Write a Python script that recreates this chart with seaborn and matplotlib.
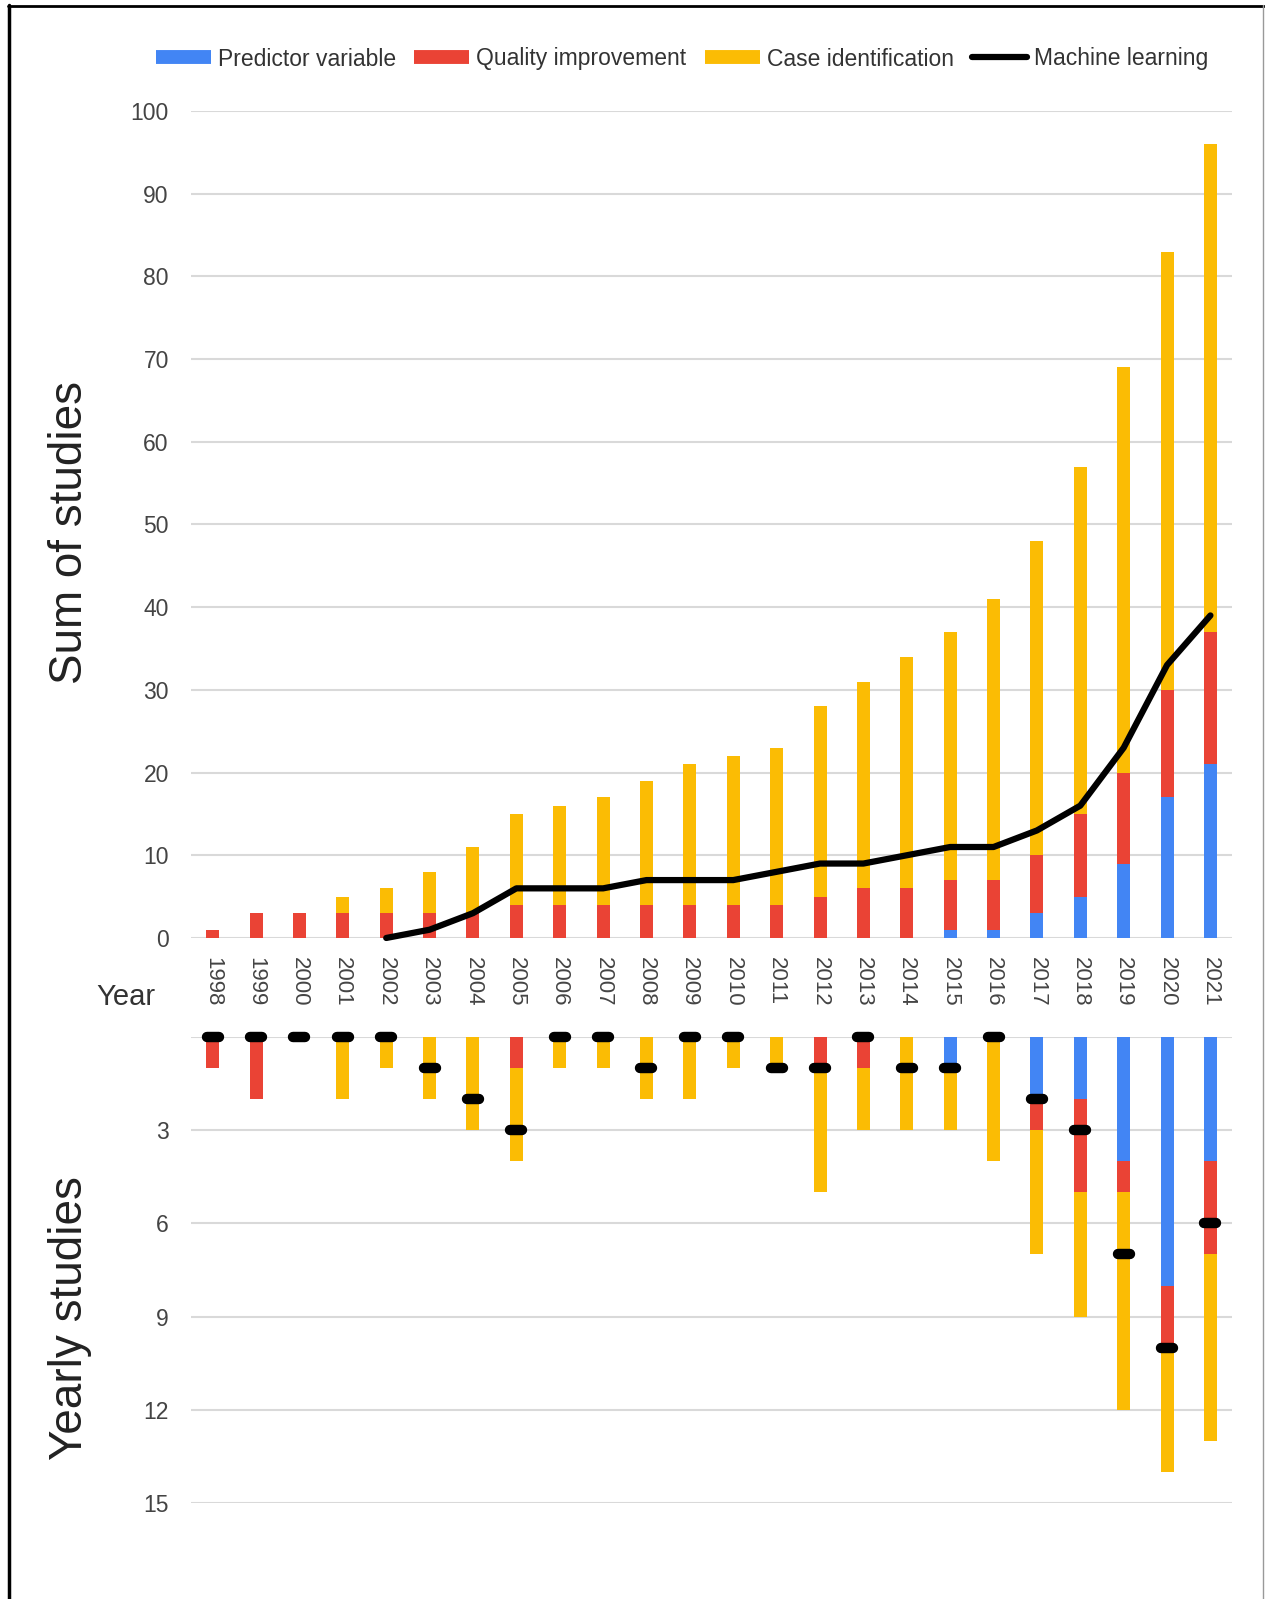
import numpy as np
import matplotlib.pyplot as plt
from matplotlib.lines import Line2D
from matplotlib.markers import MarkerStyle
import seaborn as sns

years = [str(y) for y in range(1998, 2022)]

# yearly counts
predictor = [0, 0, 0, 0, 0, 0, 0, 0, 0, 0, 0, 0, 0, 0, 0, 0, 0, 1, 0, 2, 2, 4, 8, 4]
quality = [1, 2, 0, 0, 0, 0, 0, 1, 0, 0, 0, 0, 0, 0, 1, 1, 0, 0, 0, 1, 3, 1, 2, 3]
case_id = [0, 0, 0, 2, 1, 2, 3, 3, 1, 1, 2, 2, 1, 1, 4, 2, 3, 2, 4, 4, 4, 7, 4, 6]
ml_yearly = [0, 0, 0, 0, 0, 1, 2, 3, 0, 0, 1, 0, 0, 1, 1, 0, 1, 1, 0, 2, 3, 7, 10, 6]

# running total of machine learning studies (line starts in 2002)
ml_total = [None, None, None, None, 0, 1, 3, 6, 6, 6, 7, 7, 7, 8, 9, 9, 10, 11, 11, 13, 16, 23, 33, 39]

labels = ["Predictor variable", "Quality improvement", "Case identification", "Machine learning"]
BLUE, RED, YELLOW = "#4285F4", "#EA4335", "#FBBC04"
GRID = "#d9d9d9"
TXT = "#444444"

sns.set_style("white")
plt.rcParams["font.family"] = ["Liberation Sans", "DejaVu Sans"]

pred = np.array(predictor)
qual = np.array(quality)
case = np.array(case_id)
pos = np.arange(len(years))

fig = plt.figure(figsize=(12.65, 15.99), dpi=100)
ax1 = fig.add_axes([0.151, 0.4134, 0.823, 0.5172])
ax2 = fig.add_axes([0.151, 0.0600, 0.823, 0.2915])


def stacked(ax, b, r, y):
    # draw the stack as overlapping bars, tallest first
    for h, c in [(b + r + y, YELLOW), (b + r, RED), (b, BLUE)]:
        sns.barplot(x=years, y=h, order=years, color=c, width=0.3, saturation=1,
                    linewidth=0, ax=ax)


# top: cumulative
stacked(ax1, np.cumsum(pred), np.cumsum(qual), np.cumsum(case))
sns.lineplot(x=pos, y=np.array(ml_total, dtype=float), color="black", lw=4.5,
             errorbar=None, sort=False, ax=ax1, clip_on=False, zorder=5)
ax1.set_ylim(0, 100)
ax1.set_yticks(range(0, 101, 10))
ax1.set_xlim(-0.5, len(years) - 0.5)
ax1.set_xticks(pos)
ax1.set_xticklabels(years, rotation=270, fontsize=16, color=TXT)
ax1.tick_params(axis="x", pad=14, length=0)

# bottom: yearly, drawn downward
stacked(ax2, pred, qual, case)
ax2.plot(pos, ml_yearly, ls="none", marker=MarkerStyle("_", capstyle="round"),
         ms=8, mew=7.5, color="black", zorder=6, clip_on=False)
ax2.set_ylim(15, 0)
ax2.set_yticks(range(0, 16, 3))
ax2.set_yticklabels([""] + [str(v) for v in range(3, 16, 3)])
ax2.set_xlim(-0.5, len(years) - 0.5)
ax2.set_xticks(pos)
ax2.set_xticklabels([])

for ax in (ax1, ax2):
    ax.set_xlabel("")
    ax.set_ylabel("")
    for s in ax.spines.values():
        s.set_visible(False)
    ax.yaxis.grid(True, color=GRID, lw=1.5)
    ax.set_axisbelow(True)
    ax.tick_params(axis="y", length=0, pad=16, labelsize=16.5, labelcolor=TXT)
    ax.tick_params(axis="x", length=0)

fig.text(70 / 1265, 1 - 532 / 1599, "Sum of studies", rotation=90, fontsize=33,
         ha="center", va="center", color="#222222")
fig.text(70 / 1265, 1 - 1318 / 1599, "Yearly studies", rotation=90, fontsize=33,
         ha="center", va="center", color="#222222")
fig.text(126 / 1265, 1 - 997 / 1599, "Year", fontsize=21, ha="center", va="center", color="#333333")

handles = [Line2D([], [], color=BLUE, lw=10, solid_capstyle="butt"),
           Line2D([], [], color=RED, lw=10, solid_capstyle="butt"),
           Line2D([], [], color=YELLOW, lw=10, solid_capstyle="butt"),
           Line2D([], [], color="black", lw=4.5)]
fig.legend(handles, labels, loc="center", bbox_to_anchor=(682 / 1265, 1 - 59 / 1599), ncol=4,
           frameon=False, fontsize=16.5, handlelength=2.4, handletextpad=0.3, columnspacing=0.8,
           labelcolor="#333333")

# page frame: black on the left and top, faint on the right
fig.add_artist(Line2D([0.0075, 0.0075], [0.0, 0.997], color="black", lw=2.5, transform=fig.transFigure))
fig.add_artist(Line2D([0.0065, 0.999], [0.9965, 0.9965], color="black", lw=2, transform=fig.transFigure))
fig.add_artist(Line2D([0.9985, 0.9985], [0.0, 0.997], color="#999999", lw=1, transform=fig.transFigure))

fig.savefig("out.png", dpi=100)
